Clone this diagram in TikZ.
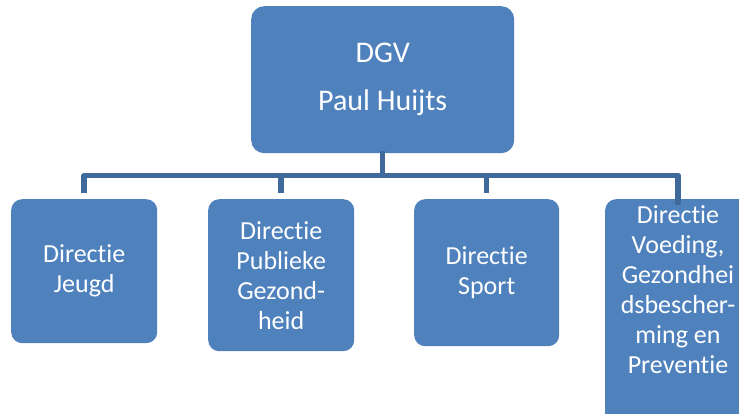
\documentclass[tikz,border=0pt]{standalone}
\usepackage{fontspec}
\setmainfont[Ligatures=NoCommon]{Carlito}
\definecolor{boxblue}{HTML}{4F81BD}
\definecolor{linkblue}{RGB}{64,106,156}
\begin{document}
\begin{tikzpicture}[x=1pt,y=-1pt,
  unitbox/.style={fill=boxblue, draw=none, rounded corners=11pt, text=white,
    align=center, inner sep=0pt, anchor=north west},
  headbox/.style={unitbox, rounded corners=13pt, font=\fontsize{30}{48}\selectfont},
  subbox/.style={unitbox, font=\fontsize{26}{30}\selectfont},
  conn/.style={draw=linkblue, line width=5.5pt, line join=round}]
  \useasboundingbox (0,0) rectangle (739,414);
  \clip (0,0) rectangle (739,414);

  % director-general
  \node[headbox, minimum width=263pt, minimum height=147pt] (dgv) at (251,6)
    {DGV\\Paul Huijts};

  % directorates
  \node[subbox, minimum width=146pt, minimum height=144pt] (jeugd) at (11,199)
    {Directie\\Jeugd};
  \node[subbox, minimum width=146pt, minimum height=152pt] (pg) at (208,199)
    {Directie\\Publieke\\Gezond-\\heid};
  \node[subbox, minimum width=145pt, minimum height=147pt] (sport) at (414,199)
    {Directie\\Sport};
  \node[unitbox, minimum width=146pt, minimum height=240pt] (vgp) at (605,199) {};
  \node[text=white, align=center, inner sep=0pt, font=\fontsize{26}{30}\selectfont]
    (vgptxt) at (678,290)
    {Directie\\Voeding,\\Gezondhei\\dsbescher-\\ming en\\Preventie};

  % reporting lines
  \coordinate (bus) at (0,175.5);
  \draw[conn] ([yshift=2pt]dgv.south) -- (dgv.south |- bus);
  \draw[conn, shorten <=6pt] (jeugd.north) -- (jeugd.north |- bus)
    -- (vgp.north |- bus) -- ([yshift=-6pt]vgp.north);
  \draw[conn, shorten <=6pt] (pg.north) -- (pg.north |- bus);
  \draw[conn, shorten <=6pt] (sport.north) -- (sport.north |- bus);
\end{tikzpicture}
\end{document}
